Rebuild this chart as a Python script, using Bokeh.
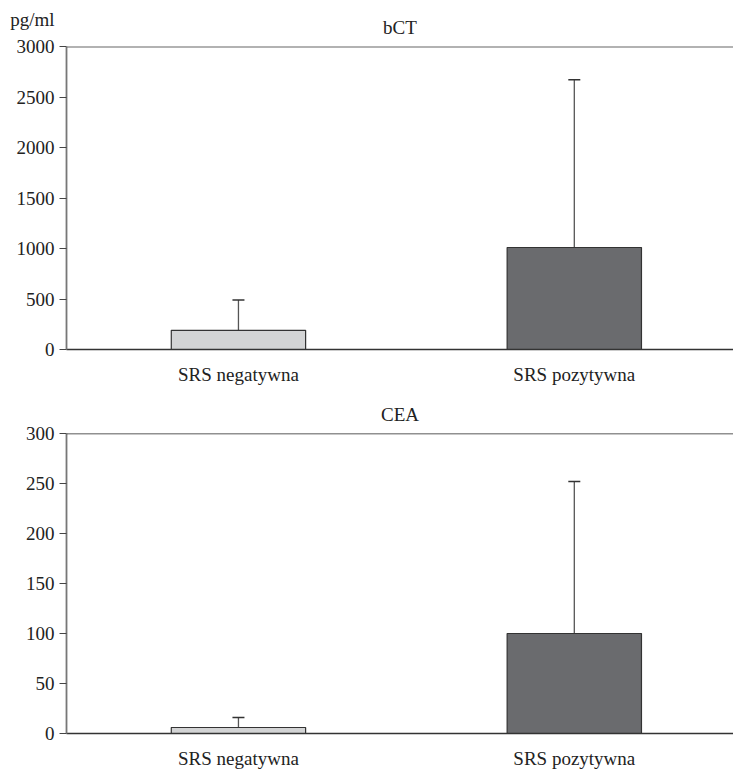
from bokeh.plotting import figure
from bokeh.models import Range1d, FixedTicker, Whisker, TeeHead, Span, ColumnDataSource
from bokeh.layouts import column
from bokeh.embed import file_html
from bokeh.resources import INLINE

categories = ["SRS negatywna", "SRS pozytywna"]
bct_mean = [190, 1010]
bct_upper = [490, 2670]
cea_mean = [6, 100]
cea_upper = [16, 252]
bct_ticks = [0, 500, 1000, 1500, 2000, 2500, 3000]
cea_ticks = [0, 50, 100, 150, 200, 250, 300]
unit_label = "pg/ml"
fills = ["#d3d4d5", "#6a6b6e"]

FONT = "Liberation Serif"
XSTART, XEND = -0.512, 1.474


def make(title, means, uppers, ticks, height, top, bottom, top_line_color, top_line_width):
    xs = list(range(len(categories)))
    src = ColumnDataSource(dict(x=xs, top=means, upper=uppers, fill=fills))
    p = figure(width=733, height=height, output_backend="svg", toolbar_location=None,
               x_range=Range1d(XSTART, XEND), y_range=Range1d(ticks[0], ticks[-1]),
               min_border_left=66, min_border_right=0, min_border_top=top, min_border_bottom=bottom)
    p.title.text = title
    p.title.align = "center"
    p.title.text_font = FONT
    p.title.text_font_size = "19px"
    p.title.text_font_style = "normal"
    p.title.text_color = "#222"
    p.title.standoff = 18
    p.outline_line_color = None
    p.grid.grid_line_color = None
    p.background_fill_color = None

    p.vbar(x="x", top="top", bottom=0, width=0.4, fill_color="fill", line_color="#333", line_width=1.2, source=src)
    w = Whisker(base="x", lower="top", upper="upper", source=src, line_color="#555", line_width=1.3,
                lower_head=None, upper_head=TeeHead(size=12, line_color="#333", line_width=1.5))
    p.add_layout(w)
    p.add_layout(Span(location=ticks[-1], dimension="width", line_color=top_line_color, line_width=top_line_width))

    p.yaxis.ticker = FixedTicker(ticks=ticks)
    p.yaxis.minor_tick_line_color = None
    p.yaxis.major_tick_out = 7
    p.yaxis.major_tick_in = 0
    p.yaxis.major_tick_line_color = "#444"
    p.yaxis.axis_line_color = "#777"
    p.yaxis.axis_line_width = 1.8
    p.yaxis.major_label_text_font = FONT
    p.yaxis.major_label_text_font_size = "19px"
    p.yaxis.major_label_text_color = "#222"
    p.yaxis.major_label_standoff = 5
    p.yaxis.major_label_text_line_height = 1.3

    p.xaxis.ticker = FixedTicker(ticks=xs)
    p.xaxis.major_label_overrides = {i: c for i, c in zip(xs, categories)}
    p.xaxis.minor_tick_line_color = None
    p.xaxis.major_tick_line_color = None
    p.xaxis.major_tick_out = 0
    p.xaxis.major_tick_in = 0
    p.xaxis.axis_line_color = "#333"
    p.xaxis.axis_line_width = 1.3
    p.xaxis.major_label_text_font = FONT
    p.xaxis.major_label_text_font_size = "19px"
    p.xaxis.major_label_text_color = "#222"
    p.xaxis.major_label_standoff = 14
    return p


p1 = make("bCT", bct_mean, bct_upper, bct_ticks, 392, 46, 43, "#666", 2)
# unit label sits one line above the top tick label, as in the original
p1.yaxis.major_label_overrides = {bct_ticks[-1]: unit_label + "\n" + str(bct_ticks[-1]) + "\n\u00a0"}
p2 = make("CEA", cea_mean, cea_upper, cea_ticks, 379, 41, 34, "#222", 1.3)

p = column(p1, p2, spacing=0)
open("out.html", "w").write(file_html(p, INLINE))
